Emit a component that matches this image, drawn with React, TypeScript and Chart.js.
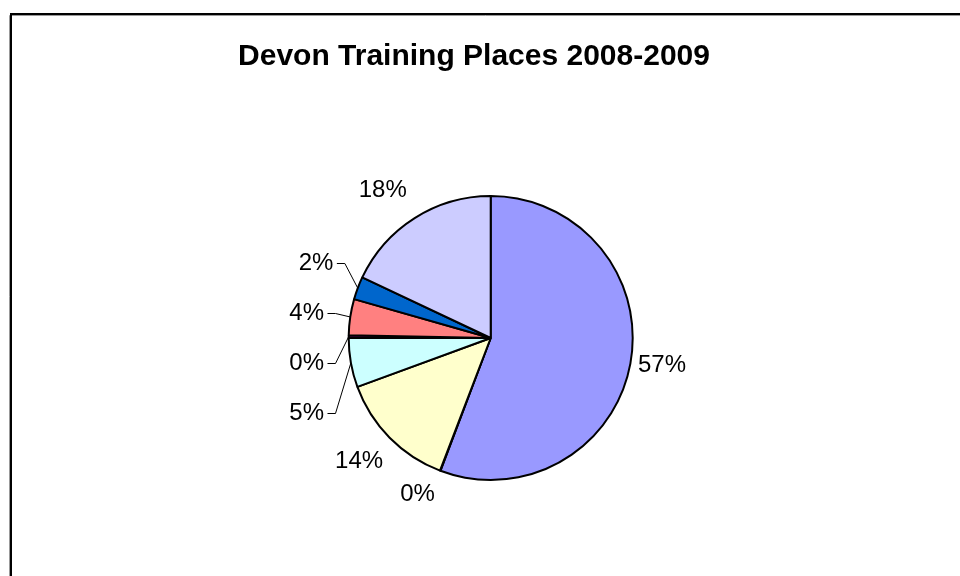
import React, { useEffect, useRef } from "react";
import { Chart, registerables } from "chart.js";

Chart.register(...registerables);

const chartTitle = "Devon Training Places 2008-2009";
const categories = ["Slice 1", "Slice 2", "Slice 3", "Slice 4", "Slice 5", "Slice 6", "Slice 7", "Slice 8"];
const values = [55.8, 0.05, 13.6, 5.6, 0.32, 4.1, 2.6, 18.0];
const percentLabels = ["57%", "0%", "14%", "5%", "0%", "4%", "2%", "18%"];
const sliceColors = ["#9999FF", "#993366", "#FFFFCC", "#CCFFFF", "#660066", "#FF8080", "#0066CC", "#CCCCFF"];

// label layout, relative to the pie centre in units of the pie radius
const labelLayout = [
  { rx: 1.206, ry: 0.194, align: "center", leader: false },
  { rx: -0.515, ry: 1.102, align: "center", leader: false },
  { rx: -0.927, ry: 0.87, align: "center", leader: false },
  { rx: -1.174, ry: 0.53, align: "right", leader: true },
  { rx: -1.174, ry: 0.178, align: "right", leader: true },
  { rx: -1.174, ry: -0.174, align: "right", leader: true },
  { rx: -1.108, ry: -0.526, align: "right", leader: true },
  { rx: -0.76, ry: -1.037, align: "center", leader: false },
];

const decorPlugin = {
  id: "decor",
  beforeDraw(chart: any) {
    const ctx = chart.ctx;
    ctx.save();
    ctx.fillStyle = "#ffffff";
    ctx.fillRect(0, 0, chart.width, chart.height);
    // frame
    ctx.strokeStyle = "#999999";
    ctx.lineWidth = 1;
    ctx.beginPath();
    ctx.moveTo(9.5, chart.height + 10);
    ctx.lineTo(9.5, 15.5);
    ctx.lineTo(chart.width + 10, 15.5);
    ctx.stroke();
    ctx.strokeStyle = "#000000";
    ctx.lineWidth = 2;
    ctx.beginPath();
    ctx.moveTo(11, chart.height + 10);
    ctx.lineTo(11, 14);
    ctx.lineTo(chart.width + 10, 14);
    ctx.stroke();
    // title
    ctx.fillStyle = "#000000";
    ctx.font = 'bold 30px "Liberation Sans", Arial, sans-serif';
    ctx.textAlign = "center";
    ctx.textBaseline = "alphabetic";
    ctx.fillText(chartTitle, 474, 65);
    ctx.restore();
  },
  afterDatasetsDraw(chart: any) {
    const ctx = chart.ctx;
    const meta = chart.getDatasetMeta(0);
    ctx.save();
    ctx.font = '24px "Liberation Sans", Arial, sans-serif';
    ctx.fillStyle = "#000000";
    ctx.textBaseline = "middle";
    meta.data.forEach((arc: any, i: number) => {
      const p = arc.getProps(["x", "y", "startAngle", "endAngle", "outerRadius"], true);
      const L = labelLayout[i];
      const tx = p.x + L.rx * p.outerRadius;
      const ty = p.y + L.ry * p.outerRadius;
      ctx.textAlign = L.align as CanvasTextAlign;
      ctx.fillText(percentLabels[i], tx, ty);
      if (L.leader) {
        const mid = (p.startAngle + p.endAngle) / 2;
        const ex = p.x + Math.cos(mid) * p.outerRadius;
        const ey = p.y + Math.sin(mid) * p.outerRadius;
        ctx.strokeStyle = "#000000";
        ctx.lineWidth = 1;
        ctx.beginPath();
        ctx.moveTo(tx + 3.5, Math.round(ty) + 0.5);
        ctx.lineTo(tx + 11.5, Math.round(ty) + 0.5);
        ctx.lineTo(ex, ey);
        ctx.stroke();
      }
    });
    ctx.restore();
  },
};

export default function App() {
  const ref = useRef<HTMLCanvasElement | null>(null);
  useEffect(() => {
    if (!ref.current) return;
    const chart = new Chart(ref.current, {
      type: "pie",
      data: {
        labels: categories,
        datasets: [
          {
            data: values,
            backgroundColor: sliceColors,
            borderColor: "#000000",
            borderWidth: 2,
          },
        ],
      },
      options: {
        animation: false,
        responsive: false,
        devicePixelRatio: 1,
        radius: 142,
        layout: { padding: { left: 21.4, right: 0, top: 100, bottom: 0 } },
        plugins: {
          legend: { display: false },
          title: { display: false },
          tooltip: { enabled: false },
        },
      } as any,
      plugins: [decorPlugin],
    });
    return () => chart.destroy();
  }, []);
  return (
    <div style={{ position: "fixed", left: 0, top: 0, width: 960, height: 576, background: "#fff" }}>
      <canvas ref={ref} width={960} height={576} style={{ display: "block" }} />
    </div>
  );
}
